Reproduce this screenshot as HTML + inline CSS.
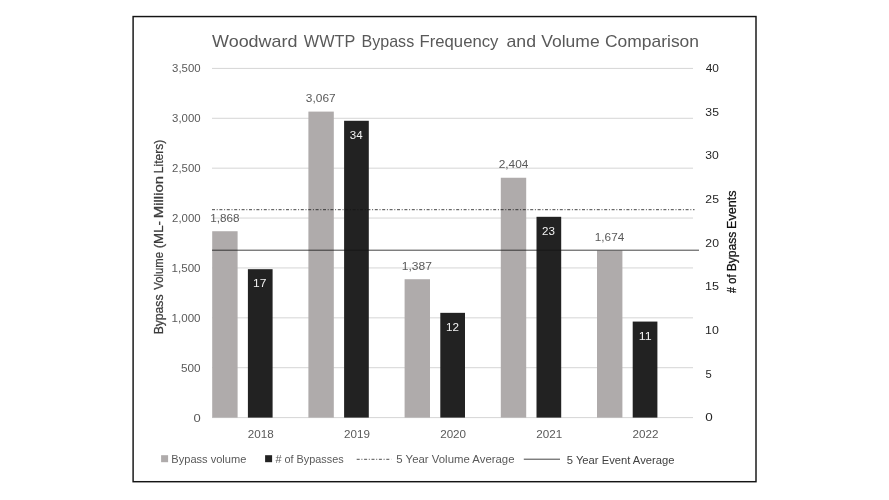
<!DOCTYPE html><html><head><meta charset="utf-8"><title>Woodward WWTP Bypass Frequency and Volume Comparison</title>
<style>html,body{margin:0;padding:0;background:#fff;}body{width:889px;height:500px;overflow:hidden;}svg{display:block;}text{font-family:'Liberation Sans',sans-serif;}</style></head><body>
<svg width="889" height="500" viewBox="0 0 889 500">
<rect x="0" y="0" width="889" height="500" fill="#ffffff"/>
<rect x="133.1" y="16.55" width="622.9" height="465.15" fill="#ffffff" stroke="#141414" stroke-width="1.45"/>
<line x1="212.0" y1="417.60" x2="693.0" y2="417.60" stroke="#d5d5d5" stroke-width="1"/>
<line x1="212.0" y1="367.71" x2="693.0" y2="367.71" stroke="#d5d5d5" stroke-width="1"/>
<line x1="212.0" y1="317.83" x2="693.0" y2="317.83" stroke="#d5d5d5" stroke-width="1"/>
<line x1="212.0" y1="267.94" x2="693.0" y2="267.94" stroke="#d5d5d5" stroke-width="1"/>
<line x1="212.0" y1="218.06" x2="693.0" y2="218.06" stroke="#d5d5d5" stroke-width="1"/>
<line x1="212.0" y1="168.17" x2="693.0" y2="168.17" stroke="#d5d5d5" stroke-width="1"/>
<line x1="212.0" y1="118.29" x2="693.0" y2="118.29" stroke="#d5d5d5" stroke-width="1"/>
<line x1="212.0" y1="68.40" x2="693.0" y2="68.40" stroke="#d5d5d5" stroke-width="1"/>
<rect x="212.20" y="231.23" width="25.40" height="186.37" fill="#afabab"/>
<rect x="247.90" y="269.19" width="24.70" height="148.41" fill="#222222"/>
<rect x="308.40" y="111.60" width="25.40" height="306.00" fill="#afabab"/>
<rect x="344.10" y="120.78" width="24.70" height="296.82" fill="#222222"/>
<rect x="404.60" y="279.22" width="25.40" height="138.38" fill="#afabab"/>
<rect x="440.30" y="312.84" width="24.70" height="104.76" fill="#222222"/>
<rect x="500.80" y="177.75" width="25.40" height="239.85" fill="#afabab"/>
<rect x="536.50" y="216.81" width="24.70" height="200.79" fill="#222222"/>
<rect x="597.00" y="250.58" width="25.40" height="167.02" fill="#afabab"/>
<rect x="632.70" y="321.57" width="24.70" height="96.03" fill="#222222"/>
<line x1="212" y1="209.7" x2="694.5" y2="209.7" stroke="#141414" stroke-width="0.8" stroke-dasharray="3 1.7 1 1.7"/>
<line x1="212" y1="250.2" x2="699" y2="250.2" stroke="#141414" stroke-width="0.8"/>
<rect x="161.1" y="455.2" width="7" height="7" fill="#afabab"/>
<rect x="265.1" y="455.2" width="7" height="7" fill="#222222"/>
<line x1="356.7" y1="459.3" x2="391.2" y2="459.3" stroke="#141414" stroke-width="0.75" stroke-dasharray="3 1.7 1 1.7"/>
<line x1="523.8" y1="459.2" x2="560" y2="459.2" stroke="#141414" stroke-width="0.8"/>
<text y="46.60" font-size="16.20" fill="#595959"><tspan x="212.10" textLength="85.34" lengthAdjust="spacingAndGlyphs">Woodward</tspan> <tspan x="303.89" textLength="51.10" lengthAdjust="spacingAndGlyphs">WWTP</tspan> <tspan x="361.53" textLength="52.66" lengthAdjust="spacingAndGlyphs">Bypass</tspan> <tspan x="419.55" textLength="78.87" lengthAdjust="spacingAndGlyphs">Frequency</tspan> <tspan x="506.53" textLength="29.52" lengthAdjust="spacingAndGlyphs">and</tspan> <tspan x="541.28" textLength="58.43" lengthAdjust="spacingAndGlyphs">Volume</tspan> <tspan x="605.03" textLength="93.99" lengthAdjust="spacingAndGlyphs">Comparison</tspan></text>
<text x="193.49" y="421.60" font-size="10.70" fill="#595959" textLength="7.22" lengthAdjust="spacingAndGlyphs">0</text>
<text x="180.99" y="372.01" font-size="10.70" fill="#595959" textLength="19.60" lengthAdjust="spacingAndGlyphs">500</text>
<text x="171.59" y="321.83" font-size="10.70" fill="#595959" textLength="28.95" lengthAdjust="spacingAndGlyphs">1,000</text>
<text x="171.59" y="271.94" font-size="10.70" fill="#595959" textLength="28.95" lengthAdjust="spacingAndGlyphs">1,500</text>
<text x="172.12" y="222.06" font-size="10.70" fill="#595959" textLength="28.49" lengthAdjust="spacingAndGlyphs">2,000</text>
<text x="172.12" y="172.17" font-size="10.70" fill="#595959" textLength="28.49" lengthAdjust="spacingAndGlyphs">2,500</text>
<text x="172.08" y="122.29" font-size="10.70" fill="#595959" textLength="28.50" lengthAdjust="spacingAndGlyphs">3,000</text>
<text x="172.08" y="72.10" font-size="10.70" fill="#595959" textLength="28.50" lengthAdjust="spacingAndGlyphs">3,500</text>
<text x="705.26" y="421.20" font-size="10.70" fill="#262626" textLength="7.49" lengthAdjust="spacingAndGlyphs">0</text>
<text x="705.48" y="377.55" font-size="10.70" fill="#262626" textLength="6.23" lengthAdjust="spacingAndGlyphs">5</text>
<text x="705.02" y="333.90" font-size="10.70" fill="#262626" textLength="13.75" lengthAdjust="spacingAndGlyphs">10</text>
<text x="705.00" y="290.25" font-size="10.70" fill="#262626" textLength="13.99" lengthAdjust="spacingAndGlyphs">15</text>
<text x="705.36" y="246.60" font-size="10.70" fill="#262626" textLength="13.57" lengthAdjust="spacingAndGlyphs">20</text>
<text x="705.37" y="202.95" font-size="10.70" fill="#262626" textLength="13.57" lengthAdjust="spacingAndGlyphs">25</text>
<text x="705.36" y="159.30" font-size="10.70" fill="#262626" textLength="13.53" lengthAdjust="spacingAndGlyphs">30</text>
<text x="705.37" y="115.65" font-size="10.70" fill="#262626" textLength="13.55" lengthAdjust="spacingAndGlyphs">35</text>
<text x="705.65" y="72.00" font-size="10.70" fill="#262626" textLength="13.21" lengthAdjust="spacingAndGlyphs">40</text>
<text x="210.23" y="221.93" font-size="10.70" fill="#595959" textLength="29.29" lengthAdjust="spacingAndGlyphs">1,868</text>
<text x="253.03" y="287.39" font-size="10.70" fill="#f2f2f2" textLength="13.39" lengthAdjust="spacingAndGlyphs">17</text>
<text x="247.75" y="437.60" font-size="10.70" fill="#595959" textLength="25.88" lengthAdjust="spacingAndGlyphs">2018</text>
<text x="305.89" y="102.30" font-size="10.70" fill="#595959" textLength="29.73" lengthAdjust="spacingAndGlyphs">3,067</text>
<text x="349.81" y="138.98" font-size="10.70" fill="#f2f2f2" textLength="12.86" lengthAdjust="spacingAndGlyphs">34</text>
<text x="343.99" y="437.60" font-size="10.70" fill="#595959" textLength="25.90" lengthAdjust="spacingAndGlyphs">2019</text>
<text x="401.82" y="269.92" font-size="10.70" fill="#595959" textLength="30.10" lengthAdjust="spacingAndGlyphs">1,387</text>
<text x="445.99" y="331.04" font-size="10.70" fill="#f2f2f2" textLength="12.98" lengthAdjust="spacingAndGlyphs">12</text>
<text x="440.17" y="437.60" font-size="10.70" fill="#595959" textLength="25.92" lengthAdjust="spacingAndGlyphs">2020</text>
<text x="498.70" y="168.45" font-size="10.70" fill="#595959" textLength="29.73" lengthAdjust="spacingAndGlyphs">2,404</text>
<text x="541.96" y="235.01" font-size="10.70" fill="#f2f2f2" textLength="12.87" lengthAdjust="spacingAndGlyphs">23</text>
<text x="536.38" y="437.60" font-size="10.70" fill="#595959" textLength="25.89" lengthAdjust="spacingAndGlyphs">2021</text>
<text x="594.82" y="241.28" font-size="10.70" fill="#595959" textLength="29.42" lengthAdjust="spacingAndGlyphs">1,674</text>
<text x="638.76" y="339.77" font-size="10.70" fill="#f2f2f2" textLength="12.95" lengthAdjust="spacingAndGlyphs">11</text>
<text x="632.54" y="437.60" font-size="10.70" fill="#595959" textLength="25.89" lengthAdjust="spacingAndGlyphs">2022</text>
<text transform="translate(162.80,0) rotate(-90)" y="0" font-size="12.00" fill="#3c3c3c" stroke="#3c3c3c" stroke-width="0.25"><tspan x="-334.39" textLength="39.88" lengthAdjust="spacingAndGlyphs">Bypass</tspan> <tspan x="-289.75" textLength="37.70" lengthAdjust="spacingAndGlyphs">Volume</tspan> <tspan x="-248.32" textLength="27.29" lengthAdjust="spacingAndGlyphs">(ML-</tspan> <tspan x="-218.30" textLength="42.50" lengthAdjust="spacingAndGlyphs">Million</tspan> <tspan x="-173.18" textLength="33.33" lengthAdjust="spacingAndGlyphs">Liters)</tspan></text>
<text transform="translate(735.80,0) rotate(-90)" y="0" font-size="12.00" fill="#111111" stroke="#111111" stroke-width="0.25"><tspan x="-293.06" textLength="5.84" lengthAdjust="spacingAndGlyphs">#</tspan> <tspan x="-283.65" textLength="9.21" lengthAdjust="spacingAndGlyphs">of</tspan> <tspan x="-271.37" textLength="39.69" lengthAdjust="spacingAndGlyphs">Bypass</tspan> <tspan x="-228.98" textLength="38.44" lengthAdjust="spacingAndGlyphs">Events</tspan></text>
<text x="171.34" y="462.50" font-size="11.00" fill="#595959" textLength="75.02" lengthAdjust="spacingAndGlyphs">Bypass volume</text>
<text x="275.44" y="462.60" font-size="11.00" fill="#595959" textLength="68.20" lengthAdjust="spacingAndGlyphs"># of Bypasses</text>
<text x="396.34" y="462.90" font-size="11.00" fill="#595959" textLength="118.21" lengthAdjust="spacingAndGlyphs">5 Year Volume Average</text>
<text x="566.75" y="463.80" font-size="11.00" fill="#404040" textLength="107.69" lengthAdjust="spacingAndGlyphs">5 Year Event Average</text>
</svg></body></html>
